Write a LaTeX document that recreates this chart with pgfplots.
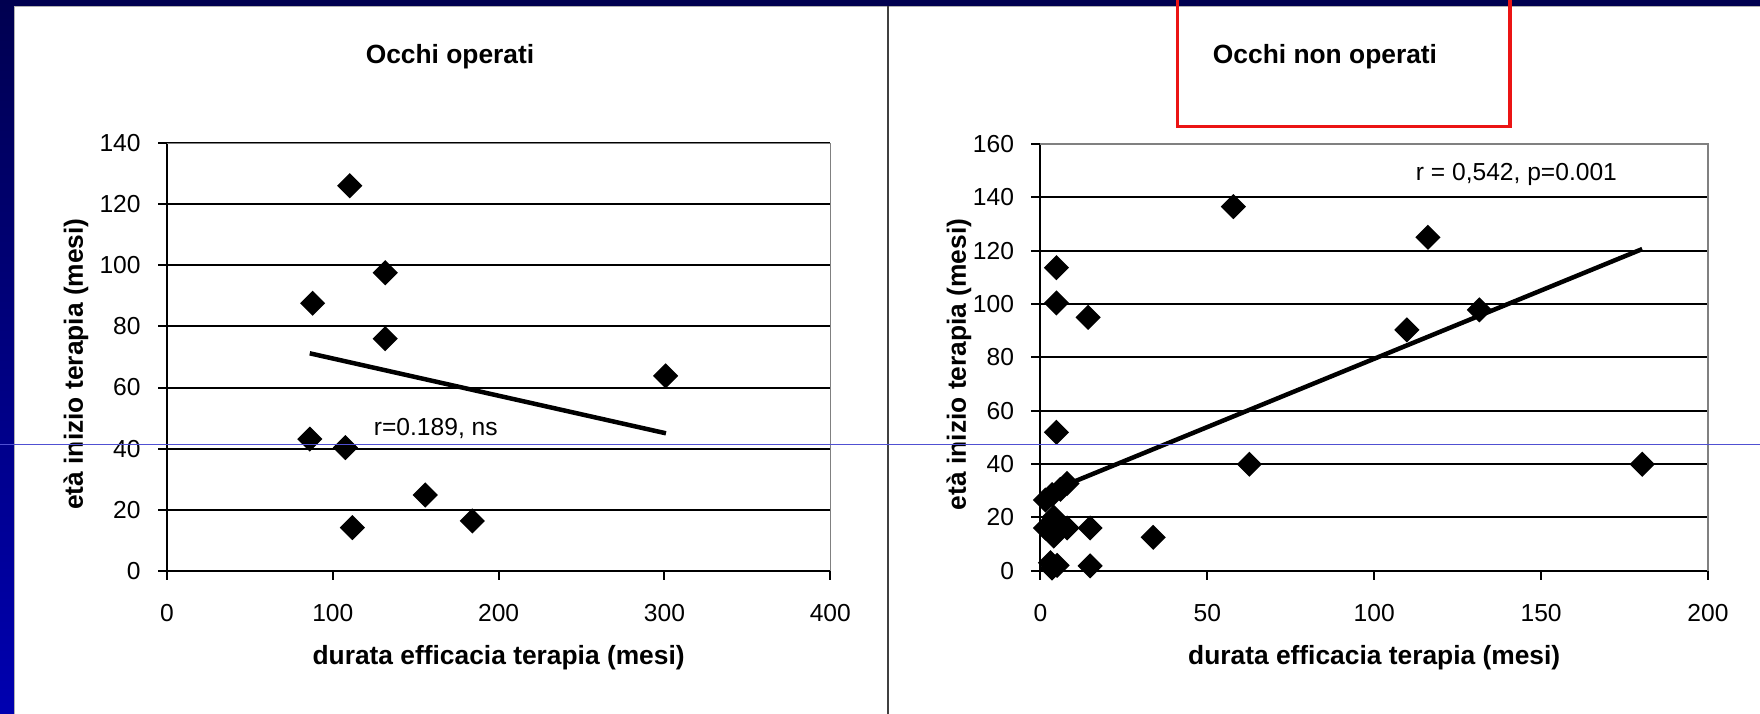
\documentclass[border=0pt]{standalone}
\usepackage{fontspec}
\setmainfont{Liberation Sans}
\usepackage{pgfplots}
\pgfplotsset{compat=1.18}
\definecolor{navy}{RGB}{0,0,80}
\definecolor{slideblue}{RGB}{0,0,176}
\definecolor{hline}{RGB}{80,80,210}
\definecolor{boxred}{RGB}{235,20,20}

\pgfplotsset{exc/.style={
  scale only axis,
  axis x line=bottom, axis y line=left,
  axis line style={-, black, line width=0.2mm},
  tick align=outside, major tick length=0.9mm,
  tick style={black, line width=0.2mm},
  ymajorgrids, grid style={black, line width=0.2mm},
  ticklabel style={font=\fontsize{7}{8}\selectfont},
  /pgf/number format/assume math mode=true,
  label style={font=\bfseries\fontsize{7.5}{9}\selectfont},
  clip=false,
  scaled ticks=false,
  xlabel style={at={(axis description cs:0.5,-0.2043)},anchor=center},
  xticklabel style={yshift=-1.2mm},
  yticklabel style={xshift=-0.5mm},
  ylabel={età inizio terapia (mesi)},
  xlabel={durata efficacia terapia (mesi)},
}}
\pgfplotsset{dmark/.style={only marks, mark=square*, mark size=0.82mm,
  mark options={rotate=45, fill=black, draw=black}}}

\begin{document}
\begin{tikzpicture}
\path[use as bounding box] (0,0) rectangle (176mm,71.4mm);
% slide background
\fill[navy] (0,0) rectangle (176mm,71.4mm);
\shade[top color=navy, bottom color=slideblue] (0,0) rectangle (1.4mm,71.4mm);
\fill[white] (1.4mm,0) rectangle (176mm,70.8mm);
\draw[gray!60, line width=0.15mm] (1.45mm,0) -- (1.45mm,70.75mm) -- (176mm,70.75mm);
\draw[black!75, line width=0.2mm] (88.77mm,0) -- (88.77mm,70.8mm);

% titles
\node[font=\bfseries\fontsize{7.5}{9}\selectfont] at (45mm,65.7mm) {Occhi operati};
\node[font=\bfseries\fontsize{7.5}{9}\selectfont] at (132.5mm,65.7mm) {Occhi non operati};

% left chart
\begin{axis}[exc,
  at={(16.7mm,14.33mm)}, anchor=south west,
  width=66.33mm, height=42.74mm,
  xmin=0, xmax=400, ymin=0, ymax=140,
  xtick={0,100,200,300,400}, ytick={0,20,...,140},
  ylabel style={at={(axis description cs:-0.1372,0.4836)},anchor=center},
]
\addplot[dmark] coordinates {
(110.2,126.1) (131.6,97.6) (87.8,87.6) (131.6,76.0) (300.7,63.8)
(86.1,43.1) (107.6,40.3) (155.7,24.8) (184.1,16.3) (111.8,14.1)
};
\addplot[black, line width=0.45mm, no marks] coordinates {(86.1,71.2) (300.9,45.0)};
\draw[gray, line width=0.15mm] (rel axis cs:0,1) -- (rel axis cs:1,1) -- (rel axis cs:1,0);
\node[font=\fontsize{7}{8}\selectfont] at (axis cs:162.1,46.7) {r=0.189, ns};
\end{axis}

% right chart
\begin{axis}[exc,
  at={(104.04mm,14.33mm)}, anchor=south west,
  width=66.76mm, height=42.67mm,
  xmin=0, xmax=200, ymin=0, ymax=160,
  xtick={0,50,100,150,200}, ytick={0,20,...,160},
  ylabel style={at={(axis description cs:-0.1219,0.4836)},anchor=center},
]
\addplot[dmark] coordinates {
(57.8,136.5) (116.1,125) (4.8,113.6) (4.8,100.4) (14.3,95)
(109.8,90.3) (131.5,97.8) (4.8,51.9) (62.6,39.9) (180.3,39.9)
(8,32.7) (6,30.5) (3.5,28.5) (1.5,26.5) (1.5,16) (4,20) (4,13)
(6,17) (8,16) (14.9,16) (33.8,12.5) (3,3) (5,2) (3.5,1) (14.9,1.8)
};
\addplot[black, line width=0.45mm, no marks] coordinates {(1.5,29.0) (180.3,120.6)};
\draw[gray, line width=0.15mm] (rel axis cs:0,1) -- (rel axis cs:1,1) -- (rel axis cs:1,0);
\node[font=\fontsize{7}{8}\selectfont] at (axis cs:142.6,148.7) {r = 0,542, p=0.001};
\end{axis}

% overlays
\draw[hline, line width=0.1mm] (0,26.95mm) -- (176mm,26.95mm);
\draw[boxred, line width=0.35mm] (117.74mm,58.74mm) rectangle (151mm,72mm);
\end{tikzpicture}
\end{document}
